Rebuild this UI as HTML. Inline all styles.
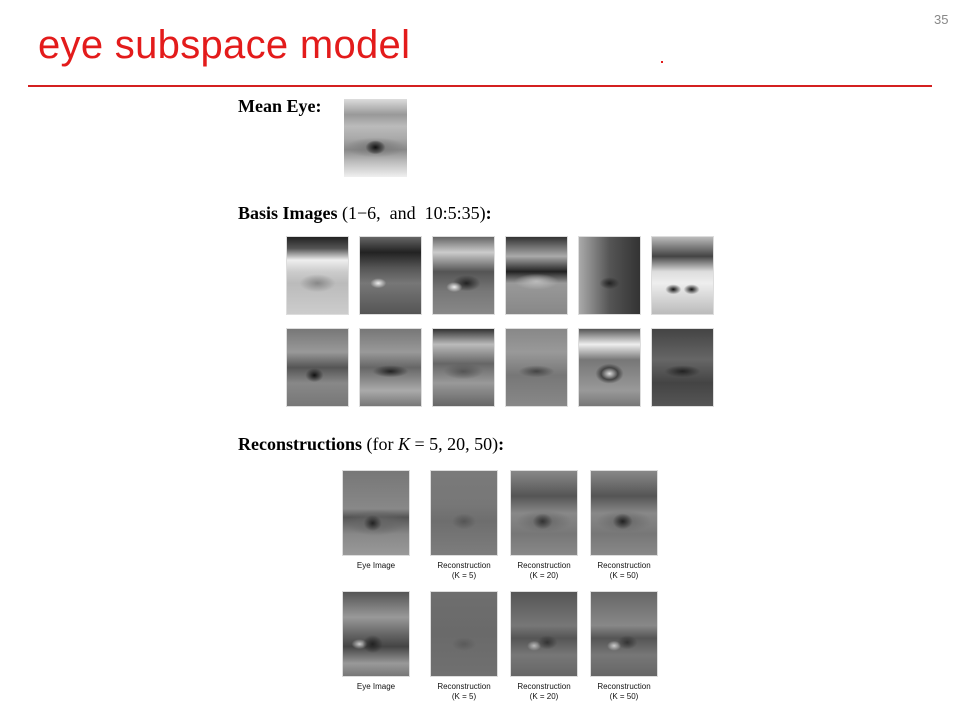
<!DOCTYPE html>
<html><head><meta charset="utf-8"><style>
body{margin:0;width:960px;height:720px;background:#fff;position:relative;overflow:hidden;font-family:"Liberation Sans",sans-serif}
.a{position:absolute}
.h{font-family:"Liberation Serif",serif;font-size:18px;color:#000}
.im{position:absolute;border:1px solid #ddd;box-sizing:border-box}
.cap{position:absolute;font-size:8px;text-align:center;width:90px;line-height:10px;color:#111}
</style></head><body>
<div class="a" style="left:38px;top:23px;font-size:40px;color:#e31b1b;font-family:'Liberation Sans',sans-serif;letter-spacing:0.3px">eye subspace model</div>
<div class="a" style="left:934px;top:12px;font-size:13px;color:#888">35</div>
<div class="a" style="left:661px;top:61px;width:2px;height:2px;background:#e31b1b"></div>
<div class="a" style="left:28px;top:85px;width:904px;height:2px;background:#d42020"></div>

<div class="a h" style="left:238px;top:96px;font-weight:bold">Mean Eye:</div>
<div class="im" style="left:344px;top:99px;width:63px;height:78px;border:none;background:radial-gradient(ellipse 10px 7px at 50% 62%,#111,#555 70%,transparent 100%),radial-gradient(ellipse 30px 10px at 50% 62%,#777,transparent),linear-gradient(#ddd 0%,#999 20%,#bbb 35%,#aaa 50%,#888 65%,#bbb 80%,#f0f0f0 100%)"></div>

<div class="a h" style="left:238px;top:203px"><b>Basis Images</b> (1−6,&nbsp; and &nbsp;10:5:35)<b>:</b></div>
<div id="basis"></div>

<div class="a h" style="left:238px;top:434px"><b>Reconstructions</b> (for <i>K</i> = 5, 20, 50)<b>:</b></div>
<div id="recon"></div>

<script>
const bx=[286,359,432,505,578,651];
const b1=[
'radial-gradient(ellipse 18px 9px at 50% 60%,#888,transparent),linear-gradient(#222 0%,#555 15%,#eee 30%,#ccc 45%,#bbb 60%,#ccc 100%)',
'radial-gradient(ellipse 8px 5px at 30% 60%,#eee,transparent),linear-gradient(#666 0%,#222 20%,#555 40%,#777 60%,#555 100%)',
'radial-gradient(ellipse 8px 5px at 35% 65%,#eee,transparent),radial-gradient(ellipse 14px 8px at 55% 60%,#222,transparent),linear-gradient(#666,#ccc 20%,#555 45%,#777 70%,#888)',
'radial-gradient(ellipse 22px 8px at 50% 58%,#bbb,transparent),linear-gradient(#333,#aaa 25%,#222 45%,#999 60%,#888)',
'radial-gradient(ellipse 10px 6px at 50% 60%,#222,transparent),linear-gradient(90deg,#aaa,#555 50%,#333),linear-gradient(#888,#555)',
'radial-gradient(ellipse 8px 5px at 35% 68%,#111,transparent),radial-gradient(ellipse 8px 5px at 65% 68%,#111,transparent),linear-gradient(#bbb,#444 25%,#ddd 45%,#eee 60%,#bbb)'];
const b2=[
'radial-gradient(ellipse 9px 7px at 45% 60%,#111,transparent),linear-gradient(#777,#999 30%,#555 50%,#888 70%,#777)',
'radial-gradient(ellipse 18px 6px at 50% 55%,#222,transparent),linear-gradient(#777,#999 30%,#666 50%,#aaa 80%,#777)',
'radial-gradient(ellipse 20px 8px at 50% 55%,#555,transparent),linear-gradient(#333,#bbb 20%,#666 45%,#999 70%,#666)',
'radial-gradient(ellipse 18px 6px at 50% 55%,#444,transparent),linear-gradient(#888,#999 30%,#777 60%,#888)',
'radial-gradient(ellipse 14px 10px at 50% 58%,#ddd,#444 60%,transparent),linear-gradient(#555,#eee 20%,#777 40%,#999 80%,#777)',
'radial-gradient(ellipse 18px 6px at 50% 55%,#222,transparent),linear-gradient(#444,#666 40%,#444 70%,#555)'];
const host=document.getElementById('basis');
[b1,b2].forEach((row,r)=>row.forEach((bg,i)=>{
 const d=document.createElement('div');d.className='im';
 
 
 d.style.cssText=`left:${bx[i]}px;top:${r?328:236}px;width:63px;height:79px;background:${bg}`;
 host.appendChild(d);}));
const rx=[342,430,510,590];
const rbg=[
['radial-gradient(ellipse 9px 8px at 45% 62%,#222,transparent),radial-gradient(ellipse 30px 13px at 50% 62%,#666,transparent),linear-gradient(#777,#888 45%,#555 55%,#888 75%,#999)',
 'radial-gradient(ellipse 12px 8px at 50% 60%,#555,transparent),linear-gradient(#7a7a7a,#777 40%,#6e6e6e 60%,#7d7d7d)',
 'radial-gradient(ellipse 10px 8px at 48% 60%,#333,transparent),radial-gradient(ellipse 28px 11px at 50% 60%,#666,transparent),linear-gradient(#888,#555 30%,#888 50%,#777 75%,#888)',
 'radial-gradient(ellipse 10px 8px at 48% 60%,#222,transparent),radial-gradient(ellipse 28px 11px at 50% 60%,#666,transparent),linear-gradient(#888,#555 30%,#888 50%,#777 75%,#888)'],
['radial-gradient(ellipse 10px 9px at 45% 62%,#222,transparent),radial-gradient(ellipse 8px 5px at 25% 62%,#ccc,transparent),linear-gradient(#555,#999 30%,#666 50%,#444 65%,#999 85%,#777)',
 'radial-gradient(ellipse 12px 7px at 50% 62%,#5a5a5a,transparent),linear-gradient(#6e6e6e,#6a6a6a 50%,#707070)',
 'radial-gradient(ellipse 10px 7px at 55% 60%,#333,transparent),radial-gradient(ellipse 7px 5px at 35% 64%,#bbb,transparent),linear-gradient(#555,#777 40%,#555 55%,#777 75%,#666)',
 'radial-gradient(ellipse 10px 7px at 55% 60%,#333,transparent),radial-gradient(ellipse 7px 5px at 35% 64%,#ccc,transparent),linear-gradient(#666,#888 40%,#555 55%,#777 75%,#666)']];
const caps=['Eye Image','Reconstruction<br>(K = 5)','Reconstruction<br>(K = 20)','Reconstruction<br>(K = 50)'];
const rh=document.getElementById('recon');
[470,591].forEach((y,r)=>rx.forEach((x,i)=>{
 const d=document.createElement('div');d.className='im';
 
 
 d.style.cssText=`left:${x}px;top:${y}px;width:68px;height:86px;background:${rbg[r][i]}`;
 rh.appendChild(d);
 const c=document.createElement('div');c.className='cap';
 
 
 c.innerHTML=caps[i];c.style.left=(x+34-45)+'px';c.style.top=(y+91)+'px';
 rh.appendChild(c);}));
</script>
</body></html>
